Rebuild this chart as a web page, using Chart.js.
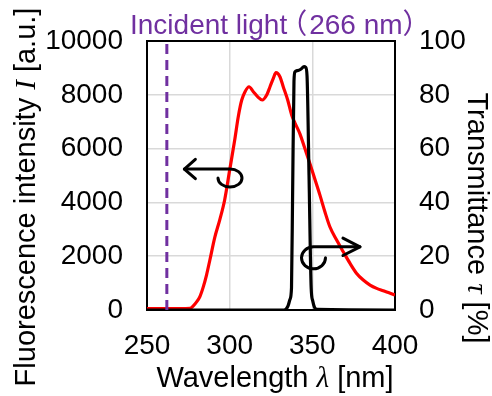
<!DOCTYPE html>
<html>
<head>
<meta charset="utf-8">
<script src="https://cdn.jsdelivr.net/npm/chart.js@4/dist/chart.umd.min.js"></script>
<style>
html,body{margin:0;padding:0;background:#fff;}
canvas{display:block;}
</style>
</head>
<body>
<canvas id="c" width="492" height="396"></canvas>
<script>
// ---- data ----
const fluoWavelength = [250,270,276,278,280,282,284,286,288,291,294,297,300,303,305.2,307.3,309.3,311.7,314.3,317.3,319.7,322.4,324.4,326.4,328,330.4,332.4,335.1,337.5,339.5,342.5,345.5,348.5,351.6,354.6,357.6,360.6,364.7,368.7,372.8,376.8,380.8,384.9,388.9,392.9,396,400];
const fluoIntensity  = [50,50,60,150,300,500,850,1300,1850,2700,3350,4100,5200,6300,7186,7806,8115,8300,8115,7906,7806,7992,8300,8612,8821,8672,8300,7806,7248,6950,6550,6000,5450,4850,4270,3651,3094,2599,2166,1733,1361,1114,928,804,718,650,557];

const transWavelength = [250,332,334,335.3,336.5,337.4,338.1,338.9,339.5,341,343,345,346,346.8,348,349.3,350.2,351.2,352.8,400];
const transValue      = [0,0,0.3,1.5,4,8.2,45,85,88.5,89,89.5,90.5,90.2,87,50,8.2,3.5,1.2,0.2,0];

const incidentWavelength = [262,262];
const incidentIntensity  = [0,10000];

const xTicks = [250,300,350,400];
const yLeftTicks = [0,2000,4000,6000,8000,10000];
const yRightTicks = [0,20,40,60,80,100];

const incidentLabelParts = ['Incident light', '\uFF08', '266 nm', '\uFF09'];

// ---- helpers ----
const toXY = (xs, ys) => xs.map((x, i) => ({x, y: ys[i]}));
const SANS = '"Liberation Sans", Arial, "Noto Sans CJK JP", sans-serif';
const SERIF_IT = 'italic 29px "Liberation Serif", "Times New Roman", serif';
const TICK_FONT = {family: SANS, size: 28};
const TITLE_SANS = '29px ' + SANS;
const plainTick = v => String(v);

function drawRich(ctx, segs, x, y, align) {
  let total = 0;
  segs.forEach(s => { ctx.font = s.font; s.w = ctx.measureText(s.text).width + (s.dx || 0); total += s.w; });
  let cx = align === 'center' ? x - total / 2 : (align === 'right' ? x - total : x);
  ctx.textAlign = 'left';
  segs.forEach(s => { ctx.font = s.font; ctx.fillText(s.text, cx + (s.dx || 0), y); cx += s.w; });
}

const annotations = {
  leftArrow:  {axis: 'y',  tip: [272.6, 5230], loop: [300.2, 4907], rx: 12, ry: 9,  head: [11, 9.7], dir: -1},
  rightArrow: {axis: 'y2', tip: [378.8, 23.5], loop: [350.7, 19.4], rx: 12, ry: 11, head: [17, 8.7], dir: 1}
};

const decorPlugin = {
  id: 'decor',
  beforeDatasetsDraw(chart) {
    const {ctx, chartArea: a} = chart;
    ctx.save();
    ctx.strokeStyle = '#000';
    ctx.lineWidth = 2;
    ctx.strokeRect(a.left, a.top, a.right - a.left, a.bottom - a.top);
    ctx.restore();
  },
  afterDatasetsDraw(chart) {
    const {ctx} = chart;
    const xs = chart.scales.x;
    ctx.save();
    ctx.strokeStyle = '#000';
    ctx.lineWidth = 3;
    ctx.lineCap = 'round';
    ctx.lineJoin = 'round';
    Object.values(annotations).forEach(an => {
      const ys = chart.scales[an.axis];
      const tx = xs.getPixelForValue(an.tip[0]);
      const cx = xs.getPixelForValue(an.loop[0]);
      const cy = ys.getPixelForValue(an.loop[1]);
      const sy = cy - an.ry;
      ctx.beginPath();
      ctx.moveTo(tx, sy);
      ctx.lineTo(cx, sy);
      if (an.dir < 0) {
        ctx.ellipse(cx, cy, an.rx, an.ry, 0, -Math.PI / 2, Math.PI, false);
      } else {
        ctx.ellipse(cx, cy, an.rx, an.ry, 0, -Math.PI / 2, 0, true);
      }
      ctx.stroke();
      const hx = tx - an.dir * an.head[0];
      ctx.beginPath();
      ctx.moveTo(hx, sy - an.head[1]);
      ctx.lineTo(tx, sy);
      ctx.lineTo(hx, sy + an.head[1]);
      ctx.stroke();
    });
    ctx.restore();
  },
  afterDraw(chart) {
    const {ctx} = chart;
    ctx.save();
    ctx.fillStyle = '#000';
    ctx.textBaseline = 'alphabetic';
    // left title
    ctx.save();
    ctx.translate(35, 197);
    ctx.rotate(-Math.PI / 2);
    drawRich(ctx, [
      {text: 'Fluorescence intensity ', font: TITLE_SANS},
      {text: 'I', font: SERIF_IT},
      {text: ' [a.u.]', font: TITLE_SANS}
    ], 0, 0, 'center');
    ctx.restore();
    // right title
    ctx.save();
    ctx.translate(468, 218);
    ctx.rotate(Math.PI / 2);
    drawRich(ctx, [
      {text: 'Transmittance ', font: TITLE_SANS},
      {text: '\u03C4', font: SERIF_IT},
      {text: ' [%]', font: TITLE_SANS}
    ], 0, 0, 'center');
    ctx.restore();
    // x title
    drawRich(ctx, [
      {text: 'Wavelength ', font: TITLE_SANS},
      {text: '\u03BB', font: SERIF_IT},
      {text: ' [nm]', font: TITLE_SANS}
    ], 275, 387, 'center');
    // incident label (full-width parentheses tightened)
    ctx.fillStyle = '#7030A0';
    const f = '28px ' + SANS;
    drawRich(ctx, [
      {text: incidentLabelParts[0], font: f},
      {text: incidentLabelParts[1], font: f, dx: -8},
      {text: incidentLabelParts[2], font: f, dx: 2},
      {text: incidentLabelParts[3], font: f, dx: 0}
    ], 130, 34, 'left');
    ctx.restore();
  }
};

new Chart(document.getElementById('c'), {
  type: 'line',
  data: {
    datasets: [
      {
        label: 'Incident', data: toXY(incidentWavelength, incidentIntensity), yAxisID: 'y',
        borderColor: '#7030A0', borderWidth: 3, borderDash: [10, 6], pointRadius: 0, tension: 0
      },
      {
        label: 'Transmittance', data: toXY(transWavelength, transValue), yAxisID: 'y2',
        borderColor: '#000000', borderWidth: 3.2, pointRadius: 0, cubicInterpolationMode: 'monotone'
      },
      {
        label: 'Fluorescence', data: toXY(fluoWavelength, fluoIntensity), yAxisID: 'y',
        borderColor: '#FF0000', borderWidth: 3.2, pointRadius: 0, cubicInterpolationMode: 'monotone'
      }
    ]
  },
  options: {
    responsive: false,
    animation: false,
    events: [],
    layout: {padding: {top: 41, left: 0, right: 0, bottom: 0}},
    plugins: {legend: {display: false}, tooltip: {enabled: false}},
    scales: {
      x: {
        type: 'linear', min: 250, max: 400,
        afterBuildTicks: s => { s.ticks = xTicks.map(v => ({value: v})); },
        afterFit: s => { s.height = 86; },
        ticks: {font: TICK_FONT, color: '#000', padding: 19, maxRotation: 0, callback: plainTick},
        grid: {color: '#d9d9d9', lineWidth: 1.5, drawTicks: false},
        border: {display: false}
      },
      y: {
        position: 'left', min: 0, max: 10000,
        afterBuildTicks: s => { s.ticks = yLeftTicks.map(v => ({value: v})); },
        afterFit: s => { s.width = 147; },
        ticks: {font: TICK_FONT, color: '#000', padding: 24, callback: plainTick},
        grid: {color: '#d9d9d9', lineWidth: 1.5, drawTicks: false},
        border: {display: false}
      },
      y2: {
        position: 'right', min: 0, max: 100,
        afterBuildTicks: s => { s.ticks = yRightTicks.map(v => ({value: v})); },
        afterFit: s => { s.width = 97; },
        ticks: {font: TICK_FONT, color: '#000', padding: 24, callback: plainTick},
        grid: {display: false, drawTicks: false},
        border: {display: false}
      }
    }
  },
  plugins: [decorPlugin]
});
</script>
</body>
</html>
